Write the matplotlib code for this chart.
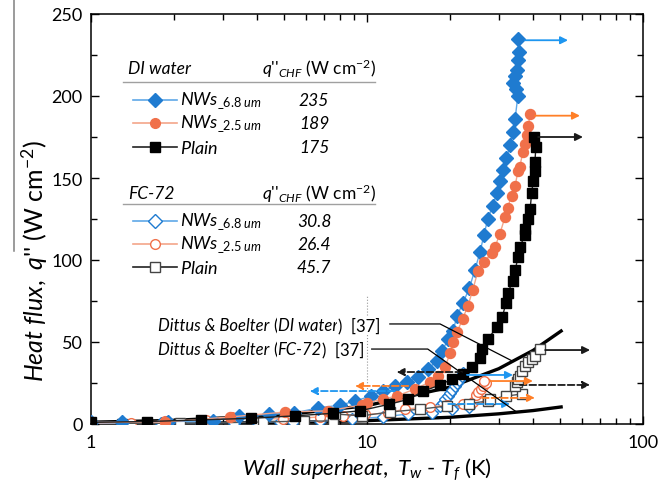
import numpy as np
import matplotlib
matplotlib.use('Agg')
import matplotlib.pyplot as plt
from matplotlib.lines import Line2D

plt.rcParams['font.family'] = ['Lato', 'DejaVu Sans']
plt.rcParams['mathtext.fontset'] = 'custom'
plt.rcParams['mathtext.rm'] = 'Lato'
plt.rcParams['mathtext.it'] = 'Lato:italic'
plt.rcParams['mathtext.bf'] = 'Lato:bold'

# DI water, NWs 6.8 um (filled diamonds)
di68_dt = [1.0, 1.3, 1.9, 2.77, 3.44, 4.4, 5.44, 6.64, 8.0, 9.05, 10.3, 11.4, 12.6, 14.0, 15.3,
           16.6, 17.9, 18.7, 19.7, 20.5, 21.2, 22.3, 23.5, 24.6, 25.7, 26.5, 27.4, 28.5, 29.6,
           30.3, 31.1, 32.0, 33.0, 33.7, 34.4, 35.2, 34.6, 33.8, 34.3, 34.9, 35.3, 35.5, 35.2]
di68_q = [1.0, 1.2, 1.5, 1.8, 4.9, 5.8, 6.7, 9.8, 11.5, 14, 17, 20, 23, 25.6, 28.7,
          33.5, 38.4, 44.5, 51.8, 56.7, 66, 74, 83, 94, 105, 115, 125, 133, 141,
          148, 155, 162, 170, 178, 186, 200, 204, 208, 212, 216, 222, 227, 235]

# DI water, NWs 2.5 um (filled circles)
di25_dt = [1.0, 1.85, 3.19, 5.05, 7.2, 9.6, 10.0, 11.4, 12.8, 14.9, 16.9, 18.1, 19.2, 20.0, 20.5,
           21.2, 22.2, 23.2, 24.2, 25.2, 26.5, 28.3, 29.1, 30.3, 31.6, 32.3, 33.4, 34.4, 35.2,
           35.8, 36.7, 37.4, 38.0, 38.4, 39.0]
di25_q = [1.0, 1.2, 4.3, 7.3, 8.0, 11.6, 12.8, 15.2, 17, 21.3, 25.6, 29, 35, 43, 50,
          56, 64, 72, 82, 93, 99, 104, 108, 116, 126, 132, 139, 145, 154,
          157, 166, 171, 176, 182, 189]

# DI water, plain (filled squares)
dipl_dt = [1.0, 1.6, 2.5, 3.8, 5.5, 7.5, 9.4, 12.0, 14.1, 16.0, 18.4, 20.3, 22.2, 24.0, 25.7,
           26.1, 27.4, 29.6, 30.9, 31.9, 32.3, 33.8, 34.5, 35.2, 35.8, 37.3, 37.3, 38.4, 39.0,
           39.5, 40.0, 40.6, 40.6, 40.9, 40.3]
dipl_q = [1.0, 1.5, 2.5, 3.5, 5.0, 6.5, 8.0, 12.0, 15.0, 20.0, 23.8, 27.4, 30.5, 35, 40,
          46, 52, 59, 65, 74, 80, 87, 94, 102, 108, 115, 119, 125, 131,
          141, 148, 154, 160, 169, 175]

# FC-72, NWs 6.8 um (open diamonds)
fc68_dt = [1.0, 1.3, 1.8, 2.5, 3.3, 4.0, 4.84, 5.4, 6.75, 8.8, 11.4, 14.1, 17.2, 20.3, 23.5,
           18.4, 18.8, 19.2, 19.6, 20.0, 20.4, 20.8, 21.2, 21.6, 22.1, 22.3]
fc68_q = [0.4, 0.5, 0.6, 0.8, 0.9, 1.0, 1.5, 1.5, 1.8, 3.0, 4.3, 6.1, 6.7, 9.1, 10.4,
          11.0, 13.0, 15.0, 17.0, 19.0, 21.0, 23.0, 25.0, 27.0, 29.3, 30.8]

# FC-72, NWs 2.5 um (open circles)
fc25_dt = [1.0, 1.4, 1.85, 2.6, 3.24, 4.95, 6.75, 8.2, 9.8, 11.9, 13.7, 16.9, 19.5, 22.2,
           24.2, 25.2, 24.8, 25.3, 25.8, 26.3, 27.0, 26.5]
fc25_q = [0.6, 0.9, 1.8, 2.4, 4.3, 3.0, 4.3, 4.9, 5.8, 6.7, 9.1, 10.4, 11.5, 12.2,
          13.4, 15.5, 17.5, 19.5, 21.3, 23.0, 25.0, 26.4]

# FC-72, plain (open squares)
fcpl_dt = [1.3, 2.1, 2.5, 4.2, 5.9, 7.5, 7.65, 9.6, 12.1, 15.5, 19.5, 23.5, 27.4, 27.9, 31.9,
           36.4, 34.4, 34.9, 35.2, 35.8, 36.4, 37.3, 38.4, 39.6, 40.6, 42.4]
fcpl_q = [0.3, 0.5, 0.6, 1.2, 1.8, 1.8, 6.1, 5.0, 7.3, 9.0, 11.0, 12.5, 14.0, 15.0, 17.0,
          18.3, 23.2, 25.6, 27.4, 29.3, 32.3, 35.4, 37.8, 39.6, 41.5, 45.7]

# Dittus & Boelter correlation curves
db_dt = [1, 2, 5, 10, 20, 30, 40, 50.5]
db_q_di = [1.1, 2.2, 5.6, 11.2, 22.5, 33.7, 44.9, 56.7]
db_q_fc = [0.2, 0.4, 1.0, 2.05, 4.1, 6.2, 8.2, 10.4]

# legend table
chf_di = ['235', '189', '175']
chf_fc = ['30.8', '26.4', '45.7']

BLUE, BLUE_L = '#1f7bd0', '#5fa8e8'
ORANGE, ORANGE_L = '#f0704a', '#f4a58a'
A_BLUE, A_ORANGE, A_BLACK = '#1e96f0', '#ff7f27', '#1a1a1a'

W, H = 670, 485


def fp(px, py):
    return px / W, 1 - py / H


fig = plt.figure(figsize=(6.7, 4.85), dpi=100)
ax = fig.add_axes([91 / W, 1 - 425 / H, (643 - 91) / W, (425 - 15) / H])

# correlation curves
ax.plot(db_dt, db_q_di, color='black', lw=2.4, zorder=2)
ax.plot(db_dt, db_q_fc, color='black', lw=2.4, zorder=2)

# FC-72 series
ax.plot(fc68_dt, fc68_q, '-', color=BLUE_L, lw=1, marker='D', ms=6.5, mfc='white', mec=BLUE, mew=1, zorder=3)
ax.plot(fc25_dt, fc25_q, '-', color=ORANGE_L, lw=1, marker='o', ms=7, mfc='white', mec=ORANGE, mew=1, zorder=3)
ax.plot(fcpl_dt, fcpl_q, '-', color='#555555', lw=1, marker='s', ms=6.5, mfc='white', mec='#444444', mew=1, zorder=3)

# DI water series
ax.plot(di68_dt, di68_q, '-', color=BLUE_L, lw=1, marker='D', ms=6.8, mfc=BLUE, mec=BLUE, zorder=4)
ax.plot(di25_dt, di25_q, '-', color=ORANGE_L, lw=1, marker='o', ms=7.2, mfc=ORANGE, mec=ORANGE, zorder=4)
ax.plot(dipl_dt, dipl_q, '-', color='#222222', lw=1, marker='s', ms=6.5, mfc='black', mec='black', zorder=4)

# arrows (x from, x to, y, colour, linestyle)
arrows = [
    (37.4, 53.5, 234, A_BLUE, '-'),
    (40.6, 59.1, 188, A_ORANGE, '-'),
    (41.7, 60.6, 175, A_BLACK, '-'),
    (44.2, 64.3, 45.1, A_BLACK, '-'),
    (35.8, 64.3, 23.8, A_BLACK, '--'),
    (23.0, 33.8, 29.9, A_BLUE, '-'),
    (27.9, 39.9, 26.2, A_ORANGE, '-'),
    (26.1, 40.6, 15.9, A_ORANGE, '--'),
    (19.7, 33.0, 12.2, A_BLUE, '--'),
    (22.1, 12.8, 31.7, A_BLACK, '--'),
    (14.1, 9.05, 23.2, A_ORANGE, '--'),
    (12.6, 6.2, 20.1, A_BLUE, '--'),
]
for x0, x1, y, c, ls in arrows:
    ax.annotate('', xy=(x1, y), xytext=(x0, y),
                arrowprops=dict(arrowstyle='-|>', color=c, lw=1.3, ls=ls,
                                mutation_scale=11, shrinkA=0, shrinkB=0),
                zorder=6)

# dotted guide at 10 K
ax.plot([10, 10], [0, 78], color='#999999', lw=0.8, ls=':', zorder=1)


def chain(x, y, parts, size):
    # write text pieces one after another, italic or upright
    prev = None
    for s, it in parts:
        st = 'italic' if it else 'normal'
        if prev is None:
            prev = ax.text(x, y, s, fontsize=size, style=st, ha='left', va='center', zorder=7,
                           bbox=dict(fc='white', ec='none', pad=0.5))
        else:
            prev = ax.annotate(s, xy=(1, 0), xycoords=prev, fontsize=size, style=st,
                               ha='left', va='bottom', zorder=7,
                               bbox=dict(fc='white', ec='none', pad=0.5))
    return prev


# Dittus & Boelter labels and leaders
chain(1.75, 60.4, [('Dittus & Boelter ', True), ('(', False), ('DI water', True), (')  [37]', False)], 12)
chain(1.75, 45.7, [('Dittus & Boelter ', True), ('(', False), ('FC-72', True), (')  [37]', False)], 12)
ax.plot([12.1, 18.4, 33.8], [61, 61, 38.2], color='black', lw=0.9, zorder=7)
ax.plot([10.4, 16.6, 34.9], [45.7, 45.7, 7.2], color='black', lw=0.9, zorder=7)

ax.set_xscale('log')
ax.set_xlim(1, 100)
ax.set_ylim(0, 250)
ax.set_yticks(np.arange(0, 251, 50))
ax.set_yticks(np.arange(25, 250, 50), minor=True)
ax.set_xticks([1, 10, 100])
ax.set_xticklabels(['1', '10', '100'])
ax.tick_params(which='both', direction='in', top=True, right=True, labelsize=13, width=1)
ax.tick_params(which='major', length=6)
ax.tick_params(which='minor', length=4)
ax.tick_params(axis='x', pad=7)
ax.tick_params(axis='y', pad=6)
for s in ax.spines.values():
    s.set_linewidth(1.1)

ax.set_xlabel(r'$\mathit{Wall\ superheat,\ T_w}$ - $\mathit{T_f}$ (K)', fontsize=16)
ax.xaxis.set_label_coords(0.5, -0.075)
ax.set_ylabel(r"$\mathit{Heat\ flux,\ q}$'' (W cm$^{-2}$)", fontsize=18)
ax.yaxis.set_label_coords(-0.074, 0.40)

# stray line at the far left
fig.add_artist(Line2D([14 / W, 14 / W], [1.0, 1 - 252 / H], color='#808080', lw=1.1))

# legend table
qhead = r"$\mathit{q}$''${}_{\mathit{CHF}}$ (W cm$^{-2}$)"
nw68 = r'$\mathit{NWs}_{\mathit{\_6.8\ um}}$'
nw25 = r'$\mathit{NWs}_{\mathit{\_2.5\ um}}$'
names = [nw68, nw25, r'$\mathit{Plain}$']
styles = [('D', BLUE_L, BLUE), ('o', ORANGE_L, ORANGE), ('s', '#222222', 'black')]


def table(head, hy, ly, rows, vals, filled):
    fig.text(*fp(128, hy), head, fontsize=12.5, style='italic', ha='left', va='center')
    fig.text(*fp(262, hy), qhead, fontsize=12.5, ha='left', va='center')
    x0, y0 = fp(123, ly)
    x1, _ = fp(375, ly)
    fig.add_artist(Line2D([x0, x1], [y0, y0], color='#a0a0a0', lw=1))
    for ry, name, val, (m, lc, mc) in zip(rows, names, vals, styles):
        xs = [fp(p, ry)[0] for p in (133, 155, 177)]
        yy = fp(133, ry)[1]
        mfc = mc if filled else 'white'
        if m == 's' and not filled:
            mc = '#444444'
        fig.add_artist(Line2D(xs, [yy] * 3, color=lc, lw=1.2, marker=m, markevery=[1],
                              ms=7 if m != 's' else 6.5, mfc=mfc, mec=mc, mew=1))
        fig.text(*fp(180, ry), name, fontsize=13, ha='left', va='center')
        fig.text(*fp(314, ry), val, fontsize=12.5, style='italic', ha='center', va='center')


table('DI water', 69, 83, [101, 124, 148], chf_di, True)
table('FC-72', 194, 205, [222, 245, 268], chf_fc, False)

fig.savefig('out.png', dpi=100)
